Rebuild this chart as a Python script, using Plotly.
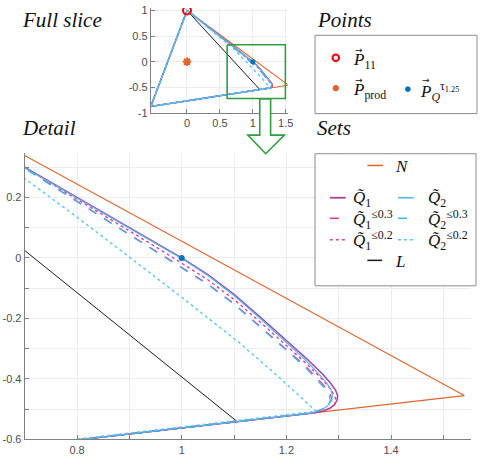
import plotly.graph_objects as go

# ---------------- data ----------------
# Outer set N
n_x = [-0.55, 0.0, 1.54, -0.55]
n_y = [-0.87, 1.0, -0.455, -0.87]
# Inner set L
l_x = [-0.55, 0.0, 1.106, -0.55]
l_y = [-0.87, 1.0, -0.541, -0.87]
# Q1 tilde (solid)
q1_x = [-0.55, 0.0, 0.7, 1.0, 1.05, 1.1, 1.15, 1.2, 1.24, 1.27, 1.285, 1.294, 1.298, 1.297, 1.292, 1.283, 1.27, 1.255, -0.55]
q1_y = [-0.87, 1.0, 0.3, 0.0, -0.055, -0.12, -0.195, -0.272, -0.335, -0.385, -0.415, -0.437, -0.455, -0.47, -0.485, -0.497, -0.506, -0.5115, -0.87]
# Q2 tilde (solid)
q2_x = [-0.55, 0.0, 0.7, 1.0, 1.05, 1.1, 1.15, 1.2, 1.235, 1.262, 1.277, 1.285, 1.288, 1.286, 1.28, 1.27, 1.25, -0.55]
q2_y = [-0.87, 1.0, 0.298, -0.002, -0.058, -0.124, -0.2, -0.278, -0.335, -0.383, -0.413, -0.435, -0.455, -0.472, -0.487, -0.499, -0.5125, -0.87]
# Q1 <= 0.3 (dashed)
q1a_x = [-0.55, 0.0, 0.7, 0.955, 1.05, 1.1, 1.15, 1.2, 1.238, 1.263, 1.277, 1.285, 1.287, 1.28, 1.27, 1.25, -0.55]
q1a_y = [-0.87, 1.0, 0.297, 0.018, -0.086, -0.151, -0.226, -0.303, -0.36, -0.405, -0.432, -0.455, -0.47, -0.487, -0.499, -0.5125, -0.87]
# Q2 <= 0.3 (dashed)
q2a_x = [-0.55, 0.0, 0.7, 0.955, 1.05, 1.1, 1.15, 1.2, 1.235, 1.26, 1.274, 1.282, 1.284, 1.28, 1.27, 1.25, -0.55]
q2a_y = [-0.87, 1.0, 0.296, 0.016, -0.088, -0.153, -0.228, -0.305, -0.36, -0.405, -0.432, -0.455, -0.47, -0.487, -0.499, -0.5125, -0.87]
# Q1 <= 0.2 (dotted)
q1b_x = [-0.55, 0.0, 0.7, 0.955, 1.05, 1.1, 1.15, 1.2, 1.24, 1.268, 1.283, 1.292, 1.295, 1.292, 1.283, 1.27, 1.255, -0.55]
q1b_y = [-0.87, 1.0, 0.299, 0.032, -0.072, -0.137, -0.212, -0.29, -0.352, -0.4, -0.43, -0.455, -0.47, -0.485, -0.497, -0.506, -0.5115, -0.87]
# Q2 <= 0.2 (dotted)
q2b_x = [-0.55, 0.0, 0.7, 0.8, 0.9, 1.0, 1.11, 1.18, 1.257, -0.55]
q2b_y = [-0.87, 1.0, 0.263, 0.135, 0.003, -0.13, -0.28, -0.385, -0.507, -0.87]
# Points
p11 = (0.0, 1.0)
pprod = (0.0, 0.0)
pq = (1.0, 0.0)
# zoom rectangle shown in the inset
rect_x = [0.61, 1.495, 1.495, 0.61, 0.61]
rect_y = [0.331, 0.331, -0.716, -0.716, 0.331]

main_xticks = [0.7, 0.8, 0.9, 1.0, 1.1, 1.2, 1.3, 1.4, 1.5]
main_xlabels = ["", "0.8", "", "1", "", "1.2", "", "1.4", ""]
main_yticks = [-0.6, -0.5, -0.4, -0.3, -0.2, -0.1, 0.0, 0.1, 0.2, 0.3]
main_ylabels = ["-0.6", "", "-0.4", "", "-0.2", "", "0", "", "0.2", ""]
ins_xticks = [0, 0.5, 1, 1.5]
ins_xlabels = ["0", "0.5", "1", "1.5"]
ins_yticks = [-1, -0.5, 0, 0.5, 1]
ins_ylabels = ["-1", "-0.5", "0", "0.5", "1"]

# ---------------- styling ----------------
C_N = "#E0632A"
C_Q1 = "#A8409F"
C_Q1a = "#D8359A"
C_Q1b = "#E0409A"
C_Q2 = "#4DBEEE"
C_Q2a = "#3FB2EA"
C_Q2b = "#5CC8F0"
C_L = "#1a1a1a"
C_GREEN = "#2E9E3E"

W, H = 484, 465
def PX(x):
    return x / W
def PY(y):
    return 1 - y / H

fig = go.Figure()

series = [
    (n_x, n_y, C_N, "solid", 1.1),
    (l_x, l_y, C_L, "solid", 1.0),
    (q1_x, q1_y, C_Q1, "solid", 1.5),
    (q1a_x, q1a_y, C_Q1a, "dash", 1.2),
    (q1b_x, q1b_y, C_Q1b, "dot", 1.4),
    (q2_x, q2_y, C_Q2, "solid", 1.2),
    (q2a_x, q2a_y, C_Q2a, "dash", 1.2),
    (q2b_x, q2b_y, C_Q2b, "dot", 1.4),
]
for xa, ya in [("x", "y"), ("x2", "y2")]:
    for sx, sy, col, dash, w in series:
        fig.add_trace(go.Scatter(x=sx, y=sy, mode="lines", xaxis=xa, yaxis=ya,
                                 line=dict(color=col, dash=dash, width=w),
                                 showlegend=False, hoverinfo="skip"))

fig.add_trace(go.Scatter(x=[pq[0]], y=[pq[1]], mode="markers", xaxis="x", yaxis="y",
                         marker=dict(color="#0072BD", size=6), showlegend=False))
fig.add_trace(go.Scatter(x=rect_x, y=rect_y, mode="lines", xaxis="x2", yaxis="y2",
                         line=dict(color=C_GREEN, width=1.6), showlegend=False))
fig.add_trace(go.Scatter(x=[pprod[0]], y=[pprod[1]], mode="markers", xaxis="x2", yaxis="y2",
                         marker=dict(symbol="asterisk-open", color=C_N, size=7,
                                     line=dict(color=C_N, width=2)), showlegend=False))
fig.add_trace(go.Scatter(x=[pq[0]], y=[pq[1]], mode="markers", xaxis="x2", yaxis="y2",
                         marker=dict(color="#0072BD", size=5), showlegend=False))
fig.add_trace(go.Scatter(x=[p11[0]], y=[p11[1]], mode="markers", xaxis="x2", yaxis="y2",
                         marker=dict(symbol="circle-open", color="#FF0000", size=8,
                                     line=dict(color="#FF0000", width=2)), showlegend=False))

axis_common = dict(showline=True, linecolor="#808080", linewidth=1, ticks="inside",
                   ticklen=4, tickcolor="#808080", showgrid=True, gridcolor="#ECECEC",
                   gridwidth=1, zeroline=False, mirror=False,
                   tickfont=dict(family="Liberation Sans", size=11, color="#4D4D4D"))

fig.update_layout(
    width=W, height=H, margin=dict(l=0, r=0, t=0, b=0),
    paper_bgcolor="white", plot_bgcolor="white",
    xaxis=dict(domain=[PX(25), PX(477)], range=[0.7, 1.553], tickmode="array",
               tickvals=main_xticks, ticktext=main_xlabels, anchor="y", **axis_common),
    yaxis=dict(domain=[PY(445), PY(152)], range=[-0.6, 0.348], tickmode="array",
               tickvals=main_yticks, ticktext=main_ylabels, anchor="x", **axis_common),
    xaxis2=dict(domain=[PX(152.7), PX(291.3)], range=[-0.55, 1.53], tickmode="array",
                tickvals=ins_xticks, ticktext=ins_xlabels, anchor="y2", **axis_common),
    yaxis2=dict(domain=[PY(111.5), PY(4)], range=[-1.0, 1.05], tickmode="array",
                tickvals=ins_yticks, ticktext=ins_ylabels, anchor="x2", **axis_common),
)

shapes = []
annots = []
SERIF = "Liberation Serif, Times New Roman, serif"

def title(txt, x, y):
    annots.append(dict(text="<i>%s</i>" % txt, x=PX(x), y=PY(y), xref="paper", yref="paper",
                       xanchor="left", yanchor="middle", showarrow=False,
                       font=dict(family=SERIF, size=21, color="#111111")))

title("Full slice", 20, 16)
title("Points", 319, 16)
title("Detail", 20, 127)
title("Sets", 319, 127)

def label(txt, x, y, size=17):
    annots.append(dict(text=txt, x=PX(x), y=PY(y), xref="paper", yref="paper",
                       xanchor="left", yanchor="middle", showarrow=False,
                       font=dict(family=SERIF, size=size, color="#111111")))

def vec(x, y):
    annots.append(dict(text="\u2192", x=PX(x), y=PY(y), xref="paper", yref="paper",
                       xanchor="center", yanchor="middle", showarrow=False,
                       font=dict(family="DejaVu Sans", size=9, color="#111111")))

# Points box
shapes.append(dict(type="rect", xref="paper", yref="paper", x0=PX(319), x1=PX(483),
                   y0=PY(112), y1=PY(32), line=dict(color="#8C8C8C", width=1),
                   fillcolor="white", layer="above"))
def dot(x, y, r, fill, line_col, lw):
    shapes.append(dict(type="circle", xref="paper", yref="paper", x0=PX(x - r), x1=PX(x + r),
                       y0=PY(y + r), y1=PY(y - r), fillcolor=fill,
                       line=dict(color=line_col, width=lw), layer="above"))
dot(340, 55, 3.3, "white", "#FF0000", 2)
dot(340, 86, 2.8, C_N, C_N, 1)
dot(413, 87, 2.4, "#0072BD", "#0072BD", 1)
label("<i>P</i><sub>11</sub>", 355, 58)
vec(363, 47)
label("<i>P</i><sub>prod</sub>", 355, 89)
vec(363, 78)
label("<i>P</i><sub><i>Q</i></sub><sup>\u03c4<sub>1.25</sub></sup>", 423, 89)
vec(431, 78)

# Sets box
shapes.append(dict(type="rect", xref="paper", yref="paper", x0=PX(319), x1=PX(482),
                   y0=PY(288), y1=PY(153), line=dict(color="#8C8C8C", width=1),
                   fillcolor="white", layer="above"))
def seg(x0, x1, y, col, dash, w):
    shapes.append(dict(type="line", xref="paper", yref="paper", x0=PX(x0), x1=PX(x1),
                       y0=PY(y), y1=PY(y), line=dict(color=col, dash=dash, width=w),
                       layer="above"))
QT = "<i>Q\u0303</i>"
seg(372, 388, 165, C_N, "solid", 1.5)
label("<i>N</i>", 398, 166)
seg(334, 350, 198, C_Q1, "solid", 1.8)
label(QT + "<sub>1</sub>", 355, 199)
seg(403, 419, 198, C_Q2, "solid", 1.6)
label(QT + "<sub>2</sub>", 431, 199)
seg(334, 350, 219, C_Q1a, "dash", 1.5)
label(QT + "<sub>1</sub><sup>\u22640.3</sup>", 355, 220)
seg(403, 419, 219, C_Q2a, "dash", 1.5)
label(QT + "<sub>2</sub><sup>\u22640.3</sup>", 431, 220)
seg(334, 350, 241, C_Q1b, "dot", 1.6)
label(QT + "<sub>1</sub><sup>\u22640.2</sup>", 355, 242)
seg(403, 419, 241, C_Q2b, "dot", 1.6)
label(QT + "<sub>2</sub><sup>\u22640.2</sup>", 431, 242)
seg(372, 387, 262, C_L, "solid", 1.5)
label("<i>L</i>", 398, 263)

# green arrow
pts = [(263, 97), (274, 97), (274, 134), (288, 134), (269, 153), (251, 134), (263, 134)]
path = "M " + " L ".join("%.5f,%.5f" % (PX(a), PY(b)) for a, b in pts) + " Z"
shapes.append(dict(type="path", xref="paper", yref="paper", path=path,
                   line=dict(color=C_GREEN, width=1.6), fillcolor="white", layer="above"))

fig.update_layout(shapes=shapes, annotations=annots)
fig.write_html("out.html")
